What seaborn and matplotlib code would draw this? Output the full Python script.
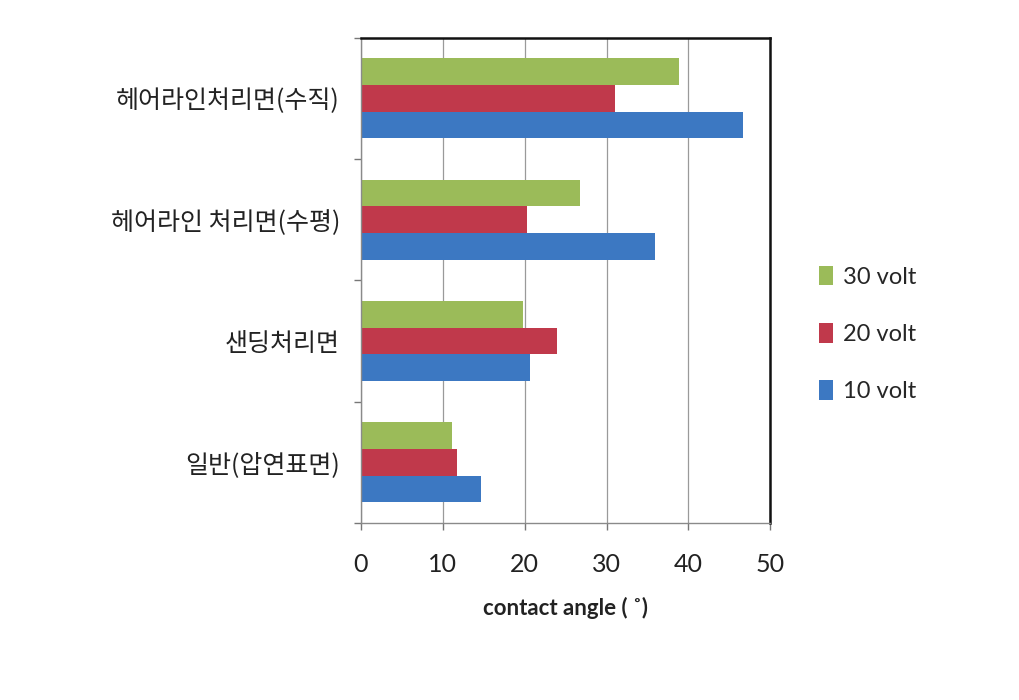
import pandas as pd
import matplotlib
matplotlib.use('Agg')
import matplotlib.pyplot as plt
import seaborn as sns
from matplotlib.ticker import FixedLocator

# data
categories = ['헤어라인처리면(수직)', '헤어라인 처리면(수평)', '샌딩처리면', '일반(압연표면)']
series = ['30 volt', '20 volt', '10 volt']
v30 = [38.8, 26.8, 19.8, 11.2]
v20 = [31.0, 20.3, 23.9, 11.7]
v10 = [46.7, 35.9, 20.7, 14.7]
colors = ['#9BBB59', '#C0394B', '#3C78C2']

df = pd.DataFrame({
    'category': categories * 3,
    'series': [s for s in series for _ in categories],
    'value': v30 + v20 + v10,
})

sns.set_theme(style='white')
plt.rcParams['font.family'] = ['Noto Sans CJK KR', 'DejaVu Sans']

fig = plt.figure(figsize=(10.19, 7.0), dpi=100)
ax = fig.add_axes([0.354, 0.253, 0.402, 0.693])

sns.barplot(data=df, y='category', x='value', hue='series', order=categories,
            hue_order=series, palette=colors, orient='h', width=0.66,
            linewidth=0, saturation=1, ax=ax)

ax.set_xlim(0, 50)
ax.set_ylim(3.5, -0.5)
ax.set_xticks([0, 10, 20, 30, 40, 50])
ax.set_xticklabels(['0', '10', '20', '30', '40', '50'], fontsize=18, family='Lato', color='#222222')
ax.xaxis.grid(True, color='#9a9a9a', linewidth=0.9)
ax.set_axisbelow(True)

# category labels centred, ticks only at group boundaries
ax.tick_params(axis='y', which='major', length=0, pad=15, labelsize=18, labelcolor='#222222')
ax.yaxis.set_minor_locator(FixedLocator([-0.5, 0.5, 1.5, 2.5, 3.5]))
ax.tick_params(axis='y', which='minor', left=True, length=5, color='#777777', width=1)
ax.tick_params(axis='x', which='major', bottom=True, length=5, color='#777777', width=1, pad=17)

for side in ['left', 'bottom']:
    ax.spines[side].set_color('#8a8a8a')
    ax.spines[side].set_linewidth(1)
for side in ['top', 'right']:
    ax.spines[side].set_color('#111111')
    ax.spines[side].set_linewidth(1.8)

ax.set_ylabel('')
ax.set_xlabel('contact angle ( ˚)', fontsize=16, fontweight='bold', family=['Lato', 'DejaVu Sans'],
              color='#222222', labelpad=15)

handles, labels = ax.get_legend_handles_labels()
ax.get_legend().remove()
fig.legend(handles, labels, loc='center left', bbox_to_anchor=(0.783, 0.523), frameon=False,
           handlelength=0.6, handleheight=0.9, handletextpad=0.4, labelspacing=1.5,
           prop={'family': 'Lato', 'size': 17})

fig.savefig('out.png', dpi=100)
